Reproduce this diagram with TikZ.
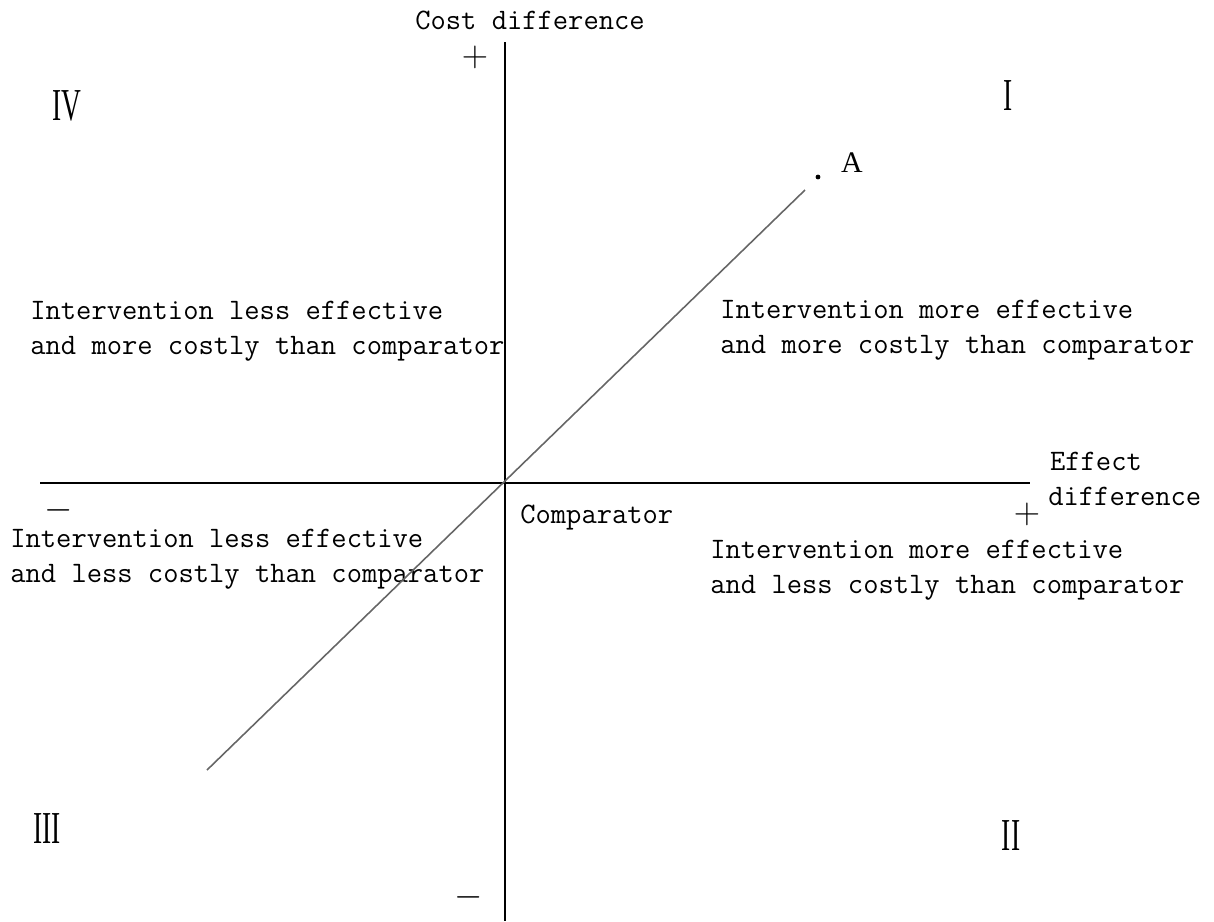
\documentclass[tikz,border=0pt]{standalone}
\usepackage{fontspec}
\newfontfamily\romanfont{Liberation Serif}
\usetikzlibrary{positioning}

\begin{document}
\begin{tikzpicture}[
    x=0.02cm, y=-0.02cm,
    every node/.style={font=\ttfamily\fontsize{16.9}{19.8}\selectfont, inner sep=0pt},
    quadtext/.style={align=left, anchor=west},
    numeral/.style={font=\romanfont\fontsize{26}{26}\selectfont},
    signmark/.style={font=\fontsize{22}{22}\selectfont},
    axisline/.style={line width=0.9pt, black},
]

% pixel grid of the reference: (0,0) top left, y grows downwards
\useasboundingbox (0,0) rectangle (1214,921);

% ---------------------------------------------------------------- axes
\coordinate (origin) at (505,483);
\coordinate (ytop)   at (505,42);
\coordinate (ybot)   at (505,921);
\coordinate (xleft)  at (40,483);
\coordinate (xright) at (1030,483);

\draw[axisline] (ytop) -- (ybot);
\draw[axisline] (xleft) -- (xright);

\node (costlabel) at (530,20) {Cost difference};
\node[signmark] (costplus)  at (475,57)  {$+$};
\node[signmark] (costminus) at (469,897) {$-$};

\node[signmark] (effminus) at (59,510)   {$-$};
\node[signmark] (effplus)  at (1027,514) {$+$};
\node[quadtext, anchor=north west] (effectlabel) at (1048,452)
    {\hspace*{1pt}Effect\\difference};

\node[anchor=west] (comparator) at (520,518) {Comparator};

% ---------------------------------------------------------------- quadrants
\node[numeral] (quadI)   at (1008,96)  {\scalebox{0.6}[1]{I}};
\node[numeral] (quadII)  at (1011,836) {\scalebox{0.6}[1]{II}};
\node[numeral] (quadIII) at (47,829)   {\scalebox{0.6}[1]{III}};
\node[numeral] (quadIV)  at (67,106)   {\scalebox{0.6}[1]{IV}};

\node[quadtext] (textIV)  at (30,331)
    {Intervention less effective\\and more costly than comparator};
\node[quadtext] (textI)   at (720,330)
    {Intervention more effective\\and more costly than comparator};
\node[quadtext] (textIII) at (10,559)
    {Intervention less effective\\and less costly than comparator};
\node[quadtext] (textII)  at (710,570)
    {Intervention more effective\\and less costly than comparator};

% ---------------------------------------------------------------- point A
\coordinate (lineend)   at (207,770);
\coordinate (linestart) at (805,190);
\draw[gray!80!black, line width=0.9pt] (lineend) -- (linestart);

\fill (818,177) circle (2.4) coordinate (pointA);
\node[font=\romanfont\fontsize{17}{17}\selectfont] (labelA) at (852,163) {A};

\end{tikzpicture}
\end{document}
